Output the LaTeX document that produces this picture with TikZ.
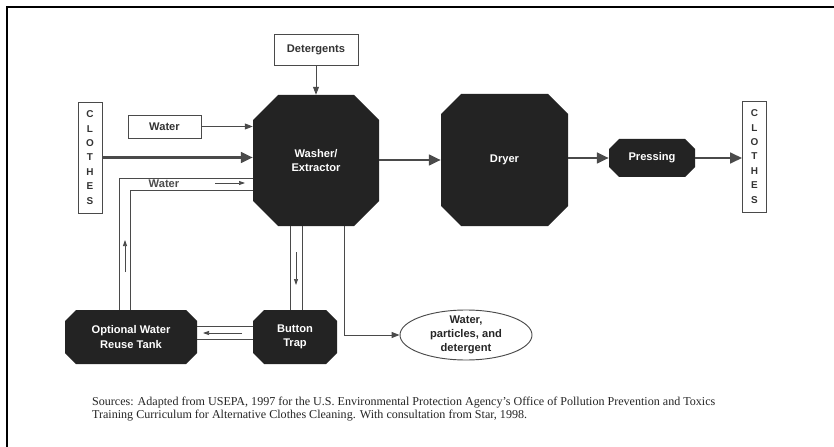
\documentclass[tikz,border=0pt]{standalone}
\usepackage{fontspec}
\setmainfont{Liberation Serif}
\setsansfont{Liberation Sans}
\usetikzlibrary{arrows.meta,shapes.geometric}
\definecolor{unitfill}{HTML}{232323}
\definecolor{linegray}{HTML}{4A4A4A}
\begin{document}
\begin{tikzpicture}[x=0.3mm,y=-0.3mm,every node/.style={font=\sffamily\bfseries\fontsize{9.5}{12}\selectfont,align=center},unit/.style={rectangle,inner sep=0pt,text=white,path picture={\fill[unitfill] ([xshift=#1]path picture bounding box.north west) -- ([xshift=-#1]path picture bounding box.north east) -- ([yshift=-#1]path picture bounding box.north east) -- ([yshift=#1]path picture bounding box.south east) -- ([xshift=-#1]path picture bounding box.south east) -- ([xshift=#1]path picture bounding box.south west) -- ([yshift=#1]path picture bounding box.south west) -- ([yshift=-#1]path picture bounding box.north west) -- cycle;}},inbox/.style={draw=linegray,line width=0.7pt,fill=white,text=black!80,inner sep=0pt},letters/.style={inbox,font=\sffamily\bfseries\fontsize{8.5}{12.3}\selectfont,minimum width=7.2mm,minimum height=33.3mm},pipe/.style={draw=linegray,line width=0.8pt},arr/.style={pipe,-{Triangle[length=2.4mm,width=1.8mm]}},flow/.style={pipe,line width=0.6pt,-{Triangle[length=1.8mm,width=1.2mm]}},main/.style={draw=linegray,line width=2.2pt,-{Triangle[length=3.6mm,width=3.2mm]}}]
\useasboundingbox[fill=white] (0,0) rectangle (834,447);
\draw[line width=2.5pt] (7,447) -- (7,7) -- (834,7);
\node[unit=7.5mm,minimum width=37.8mm,minimum height=39.3mm] (washer) at (316,160.5) {Washer/\\Extractor};
\node[unit=6mm,minimum width=38.1mm,minimum height=39.6mm] (dryer) at (504.5,160) {Dryer};
\node[unit=3mm,minimum width=25.8mm,minimum height=11.4mm] (pressing) at (652,158) {Pressing};
\node[unit=3.3mm,minimum width=39.6mm,minimum height=16.2mm] (tank) at (131,337) {Optional Water\\Reuse Tank};
\node[unit=3.3mm,minimum width=25.2mm,minimum height=16.2mm] (trap) at (295,337) {Button\\Trap};
\node[inbox,minimum width=25.2mm,minimum height=9.3mm] (det) at (316,49.5) {Detergents};
\node[inbox,minimum width=21.9mm,minimum height=6.9mm] (water) at (164.5,126.5) {Water};
\node[letters] (clothesin) at (90,157.5) {C\\L\\O\\T\\H\\E\\S};
\node[letters] (clothesout) at (754.5,156.5) {C\\L\\O\\T\\H\\E\\S};
\node[ellipse,draw=linegray,line width=0.8pt,fill=white,text=black!85,inner xsep=0pt,inner ysep=-0.8mm,minimum width=39.6mm,minimum height=15mm] (out) at (466,335) {Water,\\particles, and\\detergent};
\node[text=black!70] (recwater) at (164,184) {Water};
\node[anchor=north west,align=left,font=\rmfamily\fontsize{10.3}{11.2}\selectfont,text=black!85] (src) at (88,393) {Sources: Adapted from USEPA, 1997 for the U.S. Environmental Protection Agency's Office of Pollution Prevention and Toxics\\Training Curriculum for Alternative Clothes Cleaning. With consultation from Star, 1998.};
% main line of clothes
\draw[main] (clothesin.east) -- (clothesin.east -| washer.west);
\draw[main] (washer.east |- dryer) -- (dryer.west);
\draw[main] (dryer.east |- pressing) -- (pressing.west);
\draw[main] (pressing.east) -- (pressing.east -| clothesout.west);
% inputs
\draw[arr] (det) -- (washer);
\draw[arr] (water.east) -- (water.east -| washer.west);
% water reuse loop
\draw[pipe] ([xshift=-3.6mm]tank.north) |- ([yshift=-5.25mm]washer.west);
\draw[pipe] ([xshift=-0.3mm]tank.north) |- ([yshift=-8.85mm]washer.west);
\draw[pipe] ([xshift=-7.8mm]washer.south) -- ([xshift=-7.8mm]washer.south |- trap.north);
\draw[pipe] ([xshift=-4.2mm]washer.south) -- ([xshift=-4.2mm]washer.south |- trap.north);
\draw[pipe] ([yshift=3.3mm]trap.west) -- ([yshift=3.3mm]trap.west -| tank.east);
\draw[pipe] ([yshift=-0.6mm]trap.west) -- ([yshift=-0.6mm]trap.west -| tank.east);
\draw[arr] ([xshift=8.4mm]washer.south) |- (out.west);
% flow marks
\coordinate (f1a) at (215,183); \coordinate (f1b) at (245,183);
\coordinate (f2a) at (125,272); \coordinate (f2b) at (125,240);
\coordinate (f3a) at (296,252); \coordinate (f3b) at (296,285);
\coordinate (f4a) at (242,333); \coordinate (f4b) at (203,333);
\draw[flow] (f1a) -- (f1b);
\draw[flow] (f2a) -- (f2b);
\draw[flow] (f3a) -- (f3b);
\draw[flow] (f4a) -- (f4b);
\end{tikzpicture}
\end{document}
